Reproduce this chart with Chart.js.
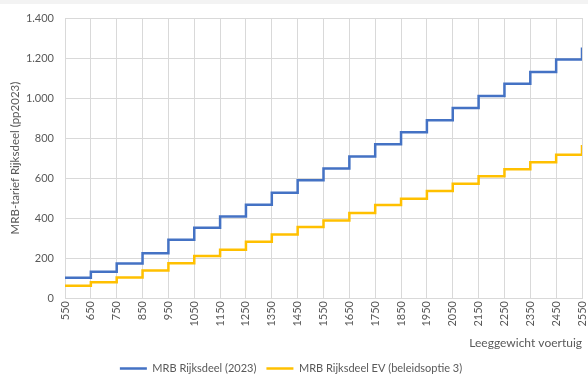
<!DOCTYPE html>
<html>
<head>
<meta charset="utf-8">
<script src="https://cdn.jsdelivr.net/npm/chart.js@4/dist/chart.umd.min.js"></script>
<style>
    html, body { margin: 0; padding: 0; background: #fff; }
    #wrap { width: 588px; height: 376px; position: relative; }
</style>
</head>
<body>
<div id="wrap"><canvas id="mrbChart" width="588" height="376"></canvas></div>
<script>
// leeggewicht (kg) en tarieven per stap
const weights = [550, 650, 750, 850, 950, 1050, 1150, 1250, 1350, 1450, 1550,
                 1650, 1750, 1850, 1950, 2050, 2150, 2250, 2350, 2450, 2550];
const mrb2023 = [101, 132, 173, 224, 291, 352, 408, 467, 527, 589, 648,
                 708, 769, 829, 889, 950, 1010, 1071, 1130, 1192, 1252];
const mrbEV = [62, 79, 103, 138, 174, 210, 242, 282, 318, 355, 388,
               425, 465, 497, 535, 572, 609, 644, 679, 716, 765];
const seriesNames = ["MRB Rijksdeel (2023)", "MRB Rijksdeel EV (beleidsoptie 3)"];

const FONT = "Lato, 'Open Sans', sans-serif";
const GREY = "#595959";
const GRID = "#d9d9d9";

function toPoints(values) {
    return weights.map((w, i) => ({ x: w, y: values[i] }));
}

function formatNL(v) {
    return String(v).replace(/\B(?=(\d{3})+(?!\d))/g, ".");
}

const topBand = {
    id: "topBand",
    beforeDraw(chart) {
        const c = chart.ctx;
        c.save();
        c.fillStyle = "#f3f3f3";
        c.fillRect(0, 0, chart.width, 4);
        c.restore();
    }
};

new Chart(document.getElementById("mrbChart").getContext("2d"), {
    type: "line",
    data: {
        datasets: [{
            label: seriesNames[0],
            data: toPoints(mrb2023),
            borderColor: "#4472c4",
            backgroundColor: "#4472c4",
            borderWidth: 2.5,
            pointRadius: 0,
            stepped: "before"
        }, {
            label: seriesNames[1],
            data: toPoints(mrbEV),
            borderColor: "#ffc000",
            backgroundColor: "#ffc000",
            borderWidth: 2.5,
            pointRadius: 0,
            stepped: "before"
        }]
    },
    options: {
        responsive: false,
        animation: false,
        layout: { padding: { top: 18, right: 6, left: 0, bottom: -8 } },
        plugins: {
            tooltip: { enabled: false },
            legend: {
                position: "bottom",
                labels: {
                    color: GREY,
                    font: { family: FONT, size: 11 },
                    usePointStyle: true,
                    pointStyle: "line",
                    pointStyleWidth: 27,
                    boxWidth: 27,
                    padding: 10
                }
            }
        },
        scales: {
            x: {
                type: "linear",
                min: 550,
                max: 2550,
                afterBuildTicks(scale) {
                    scale.ticks = weights.map(w => ({ value: w }));
                },
                afterFit(scale) {
                    scale.paddingRight = 6;
                    scale.paddingLeft = 0;
                },
                grid: { color: GRID, lineWidth: 1, drawTicks: false },
                border: { color: GRID },
                ticks: {
                    color: GREY,
                    font: { family: FONT, size: 11 },
                    minRotation: 90,
                    maxRotation: 90,
                    padding: 3,
                    callback: v => String(v)
                },
                title: {
                    display: true,
                    text: "Leeggewicht voertuig",
                    align: "end",
                    color: GREY,
                    font: { family: FONT, size: 12 },
                    padding: { top: 6, bottom: 3 }
                }
            },
            y: {
                min: 0,
                max: 1400,
                afterFit(scale) { scale.width = 65; },
                grid: { color: GRID, lineWidth: 1, drawTicks: false },
                border: { color: GRID },
                ticks: {
                    stepSize: 200,
                    color: GREY,
                    font: { family: FONT, size: 11 },
                    padding: 11,
                    callback: v => formatNL(v)
                },
                title: {
                    display: true,
                    text: "MRB-tarief Rijksdeel (pp2023)",
                    color: GREY,
                    font: { family: FONT, size: 11.5 },
                    padding: { top: 8, bottom: 0 }
                }
            }
        }
    },
    plugins: [topBand]
});
</script>
</body>
</html>
